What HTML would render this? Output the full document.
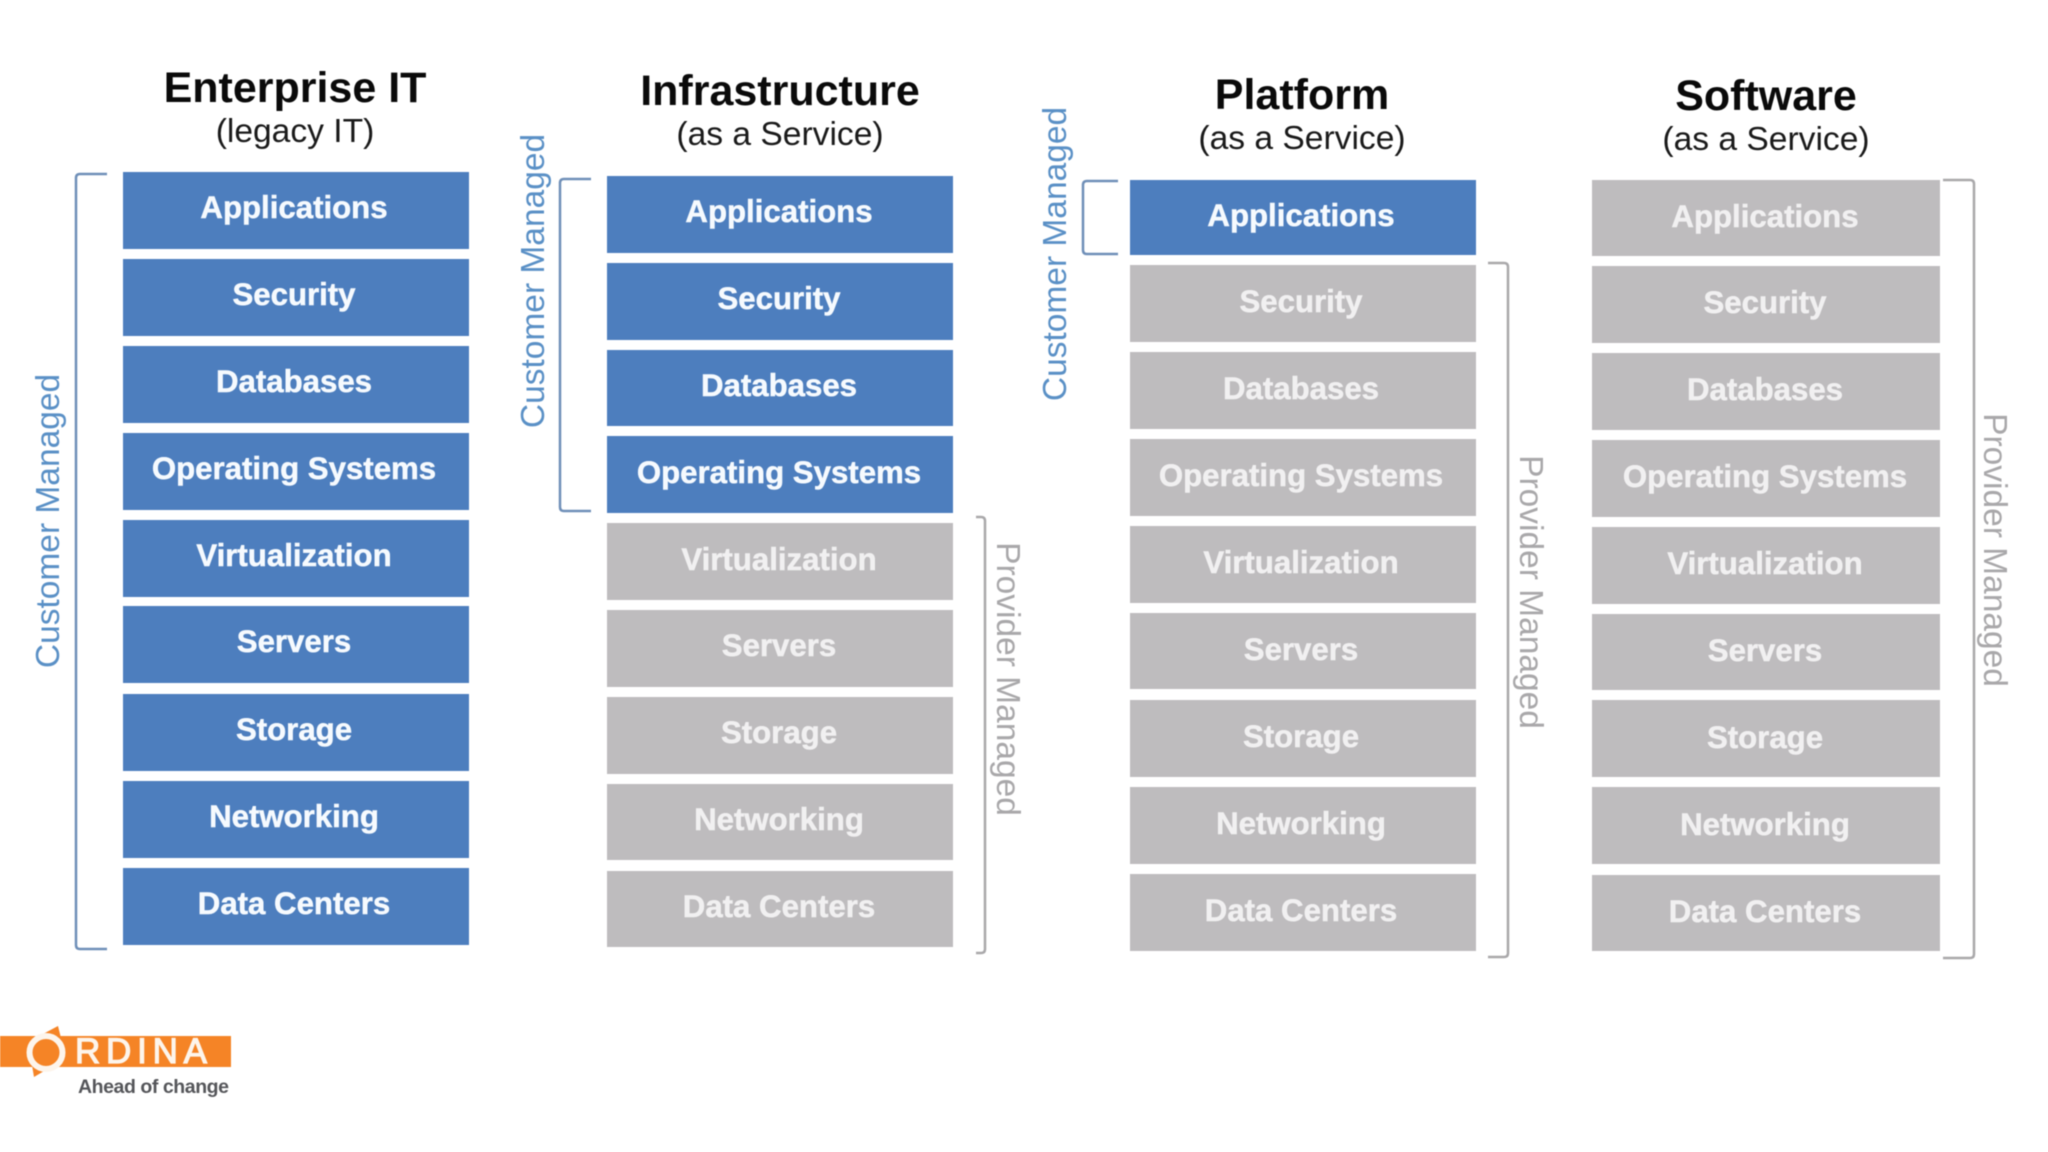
<!DOCTYPE html>
<html><head><meta charset="utf-8"><style>
html,body{margin:0;padding:0;background:#fff;width:2048px;height:1152px;overflow:hidden}
svg{display:block;filter:blur(.45px)}
text{font-family:"Liberation Sans",Arial,sans-serif}
.t{font-weight:700;font-size:43px;fill:#0a0a0a;text-anchor:middle}
.s{font-size:33.6px;fill:#1a1a1a;text-anchor:middle}
.l{font-weight:700;font-size:31.2px;text-anchor:middle;stroke-width:.5px}
.bl rect{fill:#4d7ebe}.bl text{fill:#f6fafe;stroke:#f6fafe}
.gr rect{fill:#bebcbe}.gr text{fill:#f1f0f1;stroke:#f1f0f1}
.cm{font-size:33.5px;fill:#5a90c6;text-anchor:middle}
.pm{font-size:33.5px;fill:#a9a8aa;text-anchor:middle}
.br{fill:none;stroke-width:2.5}
</style></head><body>
<svg width="2048" height="1152" viewBox="0 0 2048 1152" xmlns="http://www.w3.org/2000/svg">
<rect width="2048" height="1152" fill="#fff"/>

<text class="t" x="295" y="102">Enterprise IT</text>
<text class="s" x="295" y="142">(legacy IT)</text>
<text class="t" x="780" y="105">Infrastructure</text>
<text class="s" x="780" y="145">(as a Service)</text>
<text class="t" x="1302" y="109">Platform</text>
<text class="s" x="1302" y="149">(as a Service)</text>
<text class="t" x="1766" y="110">Software</text>
<text class="s" x="1766" y="150">(as a Service)</text>

<g class="bl">
<rect x="123" y="172" width="346" height="77"/><text class="l" x="294" y="218">Applications</text>
<rect x="123" y="259" width="346" height="77"/><text class="l" x="294" y="305">Security</text>
<rect x="123" y="346" width="346" height="77"/><text class="l" x="294" y="392">Databases</text>
<rect x="123" y="433" width="346" height="77"/><text class="l" x="294" y="479">Operating Systems</text>
<rect x="123" y="520" width="346" height="77"/><text class="l" x="294" y="566">Virtualization</text>
<rect x="123" y="606" width="346" height="77"/><text class="l" x="294" y="652">Servers</text>
<rect x="123" y="694" width="346" height="77"/><text class="l" x="294" y="740">Storage</text>
<rect x="123" y="781" width="346" height="77"/><text class="l" x="294" y="827">Networking</text>
<rect x="123" y="868" width="346" height="77"/><text class="l" x="294" y="914">Data Centers</text>

<rect x="607" y="176" width="346" height="77"/><text class="l" x="779" y="222">Applications</text>
<rect x="607" y="263" width="346" height="77"/><text class="l" x="779" y="309">Security</text>
<rect x="607" y="350" width="346" height="76"/><text class="l" x="779" y="396">Databases</text>
<rect x="607" y="436" width="346" height="77"/><text class="l" x="779" y="483">Operating Systems</text>

<rect x="1130" y="180" width="346" height="75"/><text class="l" x="1301" y="226">Applications</text>
</g>

<g class="gr">
<rect x="607" y="523" width="346" height="77"/><text class="l" x="779" y="570">Virtualization</text>
<rect x="607" y="610" width="346" height="77"/><text class="l" x="779" y="656">Servers</text>
<rect x="607" y="697" width="346" height="77"/><text class="l" x="779" y="743">Storage</text>
<rect x="607" y="784" width="346" height="76"/><text class="l" x="779" y="830">Networking</text>
<rect x="607" y="871" width="346" height="76"/><text class="l" x="779" y="917">Data Centers</text>

<rect x="1130" y="265" width="346" height="77"/><text class="l" x="1301" y="312">Security</text>
<rect x="1130" y="352" width="346" height="77"/><text class="l" x="1301" y="399">Databases</text>
<rect x="1130" y="439" width="346" height="77"/><text class="l" x="1301" y="486">Operating Systems</text>
<rect x="1130" y="526" width="346" height="77"/><text class="l" x="1301" y="573">Virtualization</text>
<rect x="1130" y="613" width="346" height="76"/><text class="l" x="1301" y="660">Servers</text>
<rect x="1130" y="700" width="346" height="77"/><text class="l" x="1301" y="747">Storage</text>
<rect x="1130" y="787" width="346" height="77"/><text class="l" x="1301" y="834">Networking</text>
<rect x="1130" y="874" width="346" height="77"/><text class="l" x="1301" y="921">Data Centers</text>

<rect x="1592" y="180" width="348" height="76"/><text class="l" x="1765" y="227">Applications</text>
<rect x="1592" y="266" width="348" height="77"/><text class="l" x="1765" y="313">Security</text>
<rect x="1592" y="353" width="348" height="77"/><text class="l" x="1765" y="400">Databases</text>
<rect x="1592" y="440" width="348" height="77"/><text class="l" x="1765" y="487">Operating Systems</text>
<rect x="1592" y="527" width="348" height="77"/><text class="l" x="1765" y="574">Virtualization</text>
<rect x="1592" y="614" width="348" height="76"/><text class="l" x="1765" y="661">Servers</text>
<rect x="1592" y="700" width="348" height="77"/><text class="l" x="1765" y="748">Storage</text>
<rect x="1592" y="787" width="348" height="77"/><text class="l" x="1765" y="835">Networking</text>
<rect x="1592" y="875" width="348" height="76"/><text class="l" x="1765" y="922">Data Centers</text>
</g>

<path class="br" stroke="#6f8fb8" d="M107 174 L80 174 Q76 174 76 178 L76 945 Q76 949 80 949 L107 949"/>
<path class="br" stroke="#6f8fb8" d="M591 179 L564 179 Q560 179 560 183 L560 507 Q560 511 564 511 L591 511"/>
<path class="br" stroke="#6f8fb8" d="M1118 181 L1087 181 Q1083 181 1083 185 L1083 250 Q1083 254 1087 254 L1118 254"/>
<path class="br" stroke="#a9a8aa" d="M976 517 L981 517 Q985 517 985 521 L985 949 Q985 953 981 953 L976 953"/>
<path class="br" stroke="#a9a8aa" d="M1488 263 L1504 263 Q1508 263 1508 267 L1508 953 Q1508 957 1504 957 L1488 957"/>
<path class="br" stroke="#a9a8aa" d="M1943 180 L1970 180 Q1974 180 1974 184 L1974 954 Q1974 958 1970 958 L1943 958"/>

<text class="cm" transform="translate(59 521) rotate(-90)">Customer Managed</text>
<text class="cm" transform="translate(544 281) rotate(-90)">Customer Managed</text>
<text class="cm" transform="translate(1066 254) rotate(-90)">Customer Managed</text>
<text class="pm" transform="translate(997 679) rotate(90)">Provider Managed</text>
<text class="pm" transform="translate(1520 592) rotate(90)">Provider Managed</text>
<text class="pm" transform="translate(1984 550) rotate(90)">Provider Managed</text>

<rect x="0" y="1036" width="231" height="31" fill="#f58426"/>
<polygon points="58,1026 66,1058 34,1077 28,1042" fill="#f58426"/>
<circle cx="46" cy="1052.5" r="16.5" fill="none" stroke="#fdf5ec" stroke-width="6"/>
<text x="75" y="1063" font-size="35" fill="#fdf5ec" stroke="#fdf5ec" stroke-width="1.2" textLength="132" lengthAdjust="spacing">RDINA</text>
<text x="78" y="1093" font-size="19.5" font-weight="700" fill="#55565a" textLength="151" lengthAdjust="spacing">Ahead of change</text>
</svg>
</body></html>
